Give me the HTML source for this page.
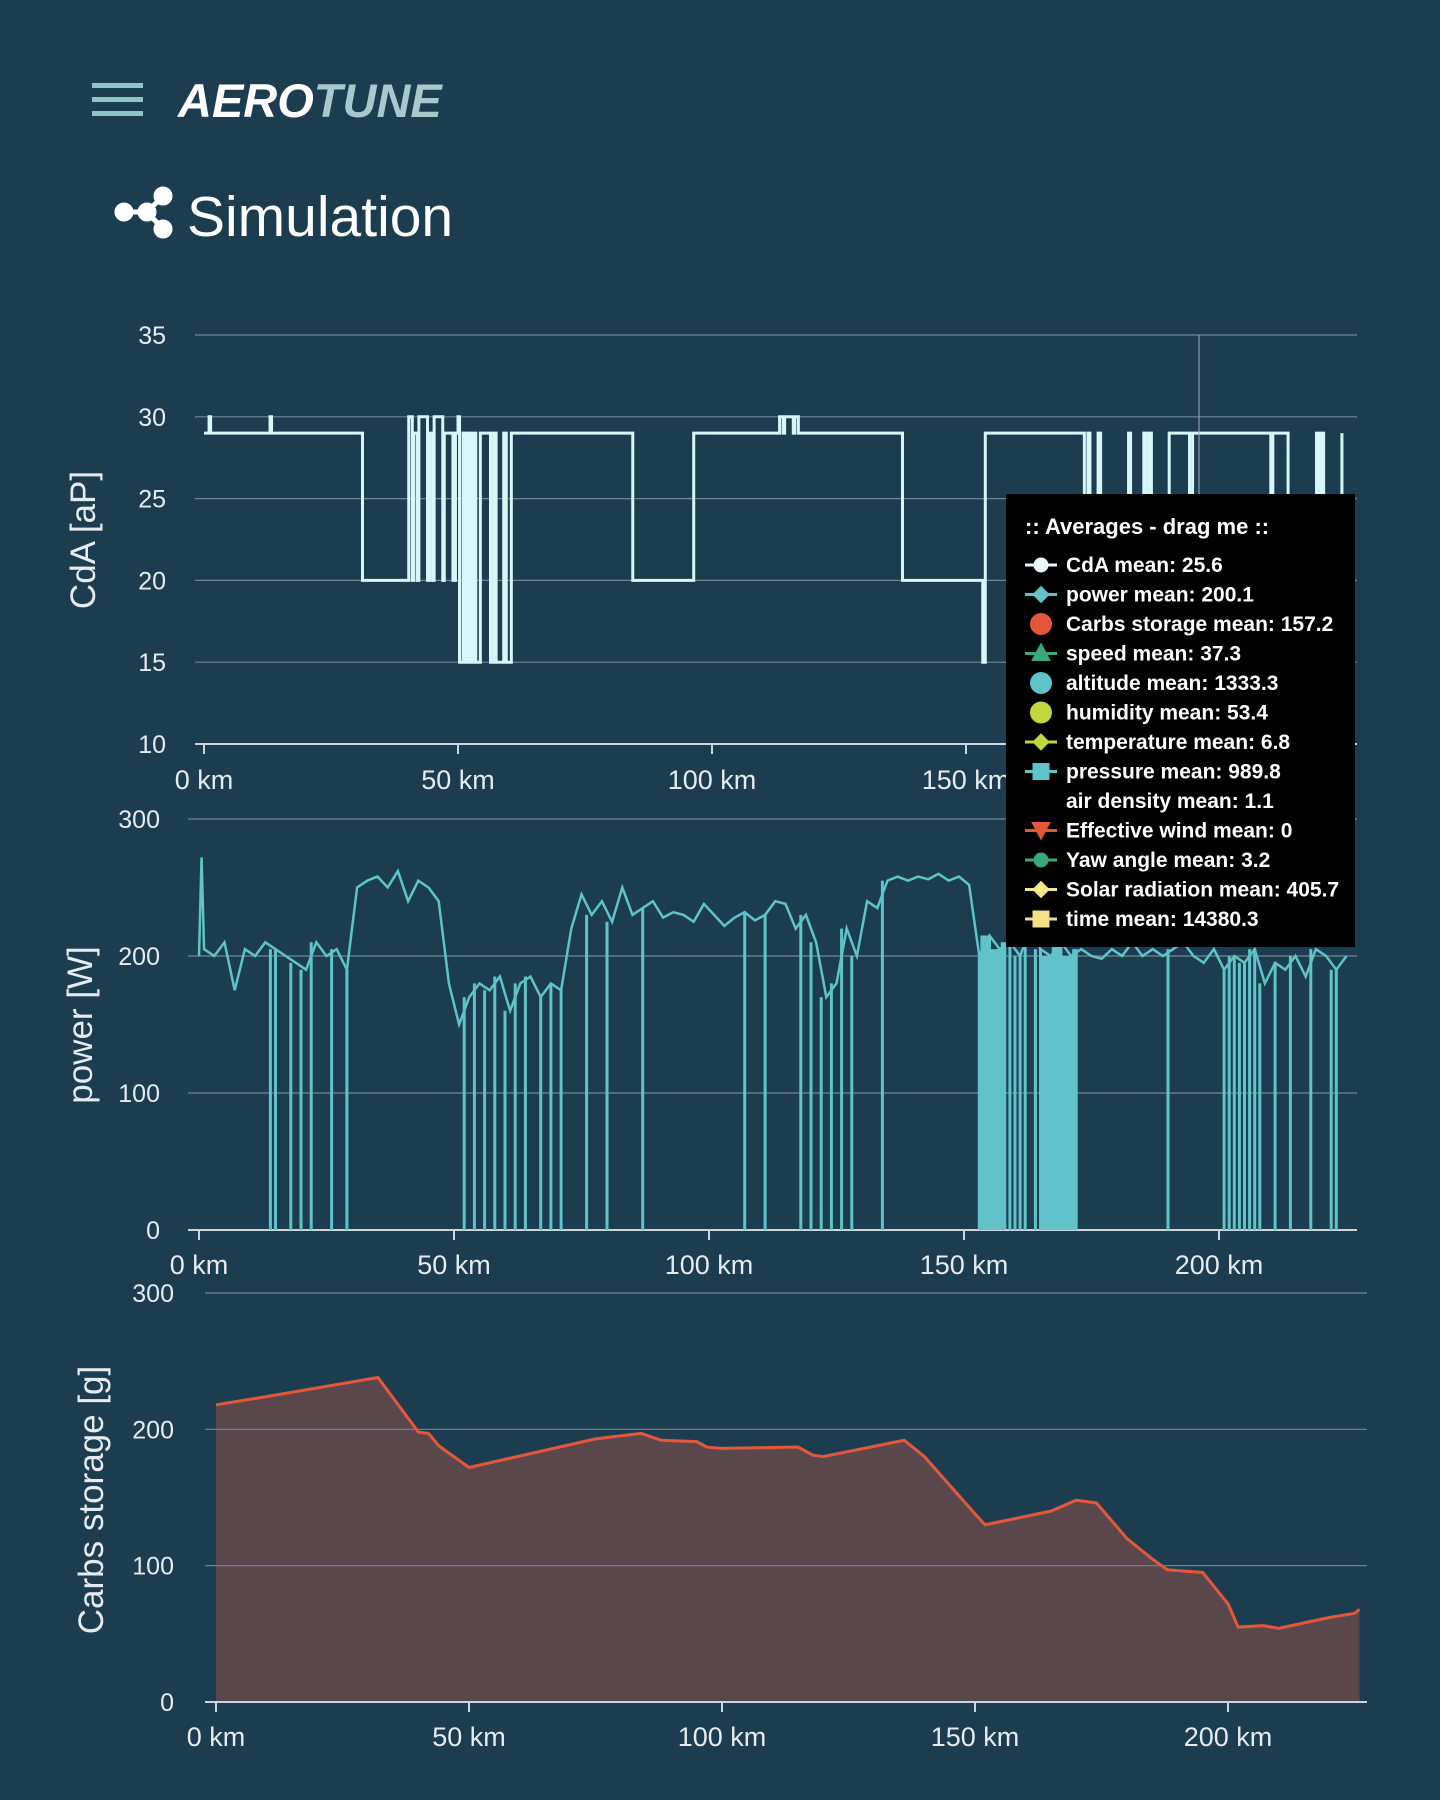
<!DOCTYPE html>
<html><head><meta charset="utf-8"><style>
body{margin:0;width:1440px;height:1800px;background:#1c3d50;overflow:hidden;font-family:"Liberation Sans",sans-serif}
svg{position:absolute;left:0;top:0}
</style></head><body>
<svg id="s" width="1440" height="1800">
<g fill="#8fc3c6">
<rect x="92" y="83" width="51" height="5"/><rect x="92" y="97" width="51" height="5"/><rect x="92" y="111" width="51" height="5"/></g>
<text x="178" y="117" font-size="47" font-weight="bold" font-style="italic"><tspan fill="#fff">AERO</tspan><tspan fill="#a7c9cc">TUNE</tspan></text>
<g fill="#fff" stroke="#fff" stroke-width="5">
<line x1="124" y1="212" x2="147" y2="212"/><line x1="147" y1="212" x2="163" y2="196"/><line x1="147" y1="212" x2="163" y2="229"/>
<circle cx="124" cy="212" r="7"/><circle cx="147" cy="212" r="7"/><circle cx="163" cy="196" r="7"/><circle cx="163" cy="229" r="7"/></g>
<text x="187" y="236" font-size="57" fill="#fff">Simulation</text>
<g id="c1"></g>
<g id="c2"></g>
<g id="c3"></g>
<line x1="1199" y1="335" x2="1199" y2="494" stroke="#aab" stroke-width="1"/>
<g id="tt"></g>
</svg>
<script>
const NS="http://www.w3.org/2000/svg";
function el(p,t,a){const e=document.createElementNS(NS,t);for(const k in a)e.setAttribute(k,a[k]);p.appendChild(e);return e;}
// CdA data (step breakpoints)
const cdaKm=[0,1,1.3,13,13.3,31,31.2,40,40.3,41,41.3,42,42.3,44,44.4,45,45.3,47,47.3,49,49.5,50,50.3,51,51.5,52,52.5,53,53.5,54,54.4,56,56.4,57,57.5,59,59.5,60,60.5,84,84.4,96,96.4,113,113.3,114,114.3,116,116.3,117,117.4,137,137.5,153,153.3,153.8,154.2,173,173.3,174,174.4,176,176.5,182,182.4,185,185.4,186,186.5,190,190.4,194,194.6,200,200.5,210,210.4,213,213.4,219,219.5,220,220.4,224];
const cdaVal=[29,30,29,30,29,29,20,20,30,20,29,20,30,20,29,20,30,20,29,20,29,30,15,29,15,29,15,29,15,15,29,29,15,29,15,29,15,15,29,29,20,20,29,29,30,29,30,29,30,29,29,29,20,20,15,29,29,29,20,29,20,29,20,29,20,29,20,29,20,29,29,20,29,29,29,20,29,29,20,29,20,29,20,29];
// Power data
const powKm=[0,0.5,1,3,5,7,9,11,13,15,17,19,21,23,25,27,29,31,33,35,37,39,41,43,45,47,49,51,53,55,57,59,61,63,65,67,69,71,73,75,77,79,81,83,85,87,89,91,93,95,97,99,101,103,105,107,109,111,113,115,117,119,121,123,125,127,129,131,133,135,137,139,141,143,145,147,149,151,153,155,157,159,161,163,165,167,169,171,173,175,177,179,181,183,185,187,189,191,193,195,197,199,201,203,205,207,209,211,213,215,217,219,221,223,225];
const powVal=[200,272,205,200,210,175,205,200,210,205,200,195,190,210,200,205,190,250,255,258,250,262,240,255,250,240,180,150,170,180,175,185,160,180,185,170,180,175,220,245,230,240,225,250,230,235,240,228,232,230,225,238,230,222,228,232,226,230,240,238,220,230,210,170,180,220,200,240,235,255,258,255,258,256,260,255,258,252,200,215,205,210,200,220,205,200,210,200,205,200,198,205,200,210,200,205,200,205,210,200,195,205,190,200,195,205,180,195,190,200,185,205,200,190,200];
const dropKm=[14,15,18,20,22,26,29,52,54,56,58,60,62,64,67,69,71,76,80,87,107,111,118,120,122,124,126,128,134,153,153.5,154,154.5,155,155.5,156,156.5,157,157.5,158,159,160,161,162,164,165,165.5,166,166.5,167,167.5,168,168.5,169,169.5,170,170.5,171,171.5,172,190,201,202,203,204,205,206,207,208,211,214,218,222,223];
// Carbs storage data
const carbKm=[0,10,32,40,42,44,50,75,84,88,95,97,100,115,118,120,136,140,150,152,165,170,174,180,185,188,195,200,202,207,210,220,225,226];
const carbVal=[218,224,238,198,197,188,172,193,197,192,191,187,186,187,181,180,192,180,138,130,140,148,146,120,105,97,95,72,55,56,54,62,65,68];
const xTicks=[0,50,100,150,200];

function chart(g,o){
  const X=k=>o.x0+k*o.pk, Y=v=>o.yb-(v-o.vmin)*(o.yb-o.yt)/(o.vmax-o.vmin);
  o.yt_.forEach(v=>{const l=el(g,'line',{x1:o.gx1,x2:o.gx2,y1:Y(v),y2:Y(v),stroke:v==o.vmin?'#c9d6dc':'#6f8793','stroke-width':v==o.vmin?2:1.2});
    
    const t=el(g,'text',{x:o.lx,y:Y(v)+9,'text-anchor':'end','font-size':25,fill:'#e4ecef'});t.textContent=v;
    });
  xTicks.forEach(k=>{if(X(k)>o.gx2)return;const l=el(g,'line',{x1:X(k),x2:X(k),y1:Y(o.vmin),y2:Y(o.vmin)+10,stroke:'#c9d6dc','stroke-width':2});
    
    const t=el(g,'text',{x:X(k),y:o.xly,'text-anchor':'middle','font-size':27,fill:'#e4ecef'});t.textContent=k+' km';
    });
  const tt=el(g,'text',{transform:`translate(${o.tx},${o.ty}) rotate(-90)`,'text-anchor':'middle','font-size':35,fill:'#e4ecef'});tt.textContent=o.title;
  
  return {X,Y};
}
// Chart 1
{const g=document.getElementById('c1');
const {X,Y}=chart(g,{x0:204,pk:5.08,yb:744,yt:335,vmin:10,vmax:35,yt_:[10,15,20,25,30,35],gx1:195,gx2:1357,lx:166,xly:789,tx:95,ty:540,title:'CdA [aP]'});
let d='';cdaKm.forEach((k,i)=>{d+=(i?`L${X(k)},${Y(cdaVal[i-1])}L`:'M')+X(k)+','+Y(cdaVal[i]);});
const p=el(g,'path',{d,fill:'none',stroke:'#d6f6f8','stroke-width':3});
}
// Chart 2
{const g=document.getElementById('c2');
const {X,Y}=chart(g,{x0:199,pk:5.1,yb:1230,yt:819,vmin:0,vmax:300,yt_:[0,100,200,300],gx1:188,gx2:1357,lx:160,xly:1274,tx:92,ty:1025,title:'power [W]'});
let d='';powKm.forEach((k,i)=>{d+=(i?'L':'M')+X(k)+','+Y(powVal[i]);});
const p=el(g,'path',{d,fill:'none',stroke:'#5fc3c9','stroke-width':2.5});

dropKm.forEach(k=>{let i=powKm.findIndex(q=>q>=k);if(i<0)i=powKm.length-1;
 const l=el(g,'line',{x1:X(k),x2:X(k),y1:Y(powVal[i]),y2:Y(0),stroke:'#5fc3c9','stroke-width':3});
 });}
// Chart 3
{const g=document.getElementById('c3');
const {X,Y}=chart(g,{x0:216,pk:5.06,yb:1702,yt:1293,vmin:0,vmax:300,yt_:[0,100,200,300],gx1:205,gx2:1367,lx:174,xly:1746,tx:103,ty:1500,title:'Carbs storage [g]'});
let d='';carbKm.forEach((k,i)=>{d+=(i?'L':'M')+X(k)+','+Y(carbVal[i]);});
const a=el(g,'path',{d:d+`L${X(carbKm[carbKm.length-1])},${Y(0)}L${X(0)},${Y(0)}Z`,fill:'#5a474b'});

g.insertBefore(a,g.firstChild);
const p=el(g,'path',{d,fill:'none',stroke:'#e5573a','stroke-width':3});
}
// Tooltip
{const g=document.getElementById('tt');
const r=el(g,'rect',{x:1006,y:494,width:349,height:453,fill:'#000'});

const h=el(g,'text',{x:1025,y:534,'font-size':22,'font-weight':'bold',fill:'#fff'});h.textContent=':: Averages - drag me ::';

const rows=[['CdA mean: 25.6','#e6f8f8','c'],['power mean: 200.1','#5fc3c9','d'],['Carbs storage mean: 157.2','#e5573a','C'],['speed mean: 37.3','#3aa87a','t'],['altitude mean: 1333.3','#5fc3c9','C'],['humidity mean: 53.4','#c2d63e','C'],['temperature mean: 6.8','#c2d63e','d'],['pressure mean: 989.8','#5fc3c9','s'],['air density mean: 1.1','#000','n'],['Effective wind mean: 0','#e5573a','v'],['Yaw angle mean: 3.2','#3aa87a','c'],['Solar radiation mean: 405.7','#f5e68a','d'],['time mean: 14380.3','#f5e08a','s']];
rows.forEach((rw,i)=>{const y=572+i*29.5,cx=1041;
 const ic=el(g,'g',{fill:rw[1],stroke:rw[1]});
 
 if(rw[2]!='C'&&rw[2]!='n')el(ic,'line',{x1:cx-16,x2:cx+16,y1:y-7,y2:y-7,'stroke-width':3});
 if(rw[2]=='c')el(ic,'circle',{cx,cy:y-7,r:7});
 if(rw[2]=='C')el(ic,'circle',{cx,cy:y-7,r:11,stroke:'none'});
 if(rw[2]=='d')el(ic,'path',{d:`M${cx},${y-15}L${cx+8},${y-7}L${cx},${y+1}L${cx-8},${y-7}Z`});
 if(rw[2]=='s')el(ic,'rect',{x:cx-8,y:y-15,width:16,height:16});
 if(rw[2]=='t')el(ic,'path',{d:`M${cx},${y-17}L${cx+9},${y}L${cx-9},${y}Z`});
 if(rw[2]=='v')el(ic,'path',{d:`M${cx-9},${y-15}L${cx+9},${y-15}L${cx},${y+2}Z`});
 const t=el(g,'text',{x:1066,y,'font-size':21,'font-weight':'bold',fill:'#fff'});t.textContent=rw[0];
 });}
</script>
</body></html>
